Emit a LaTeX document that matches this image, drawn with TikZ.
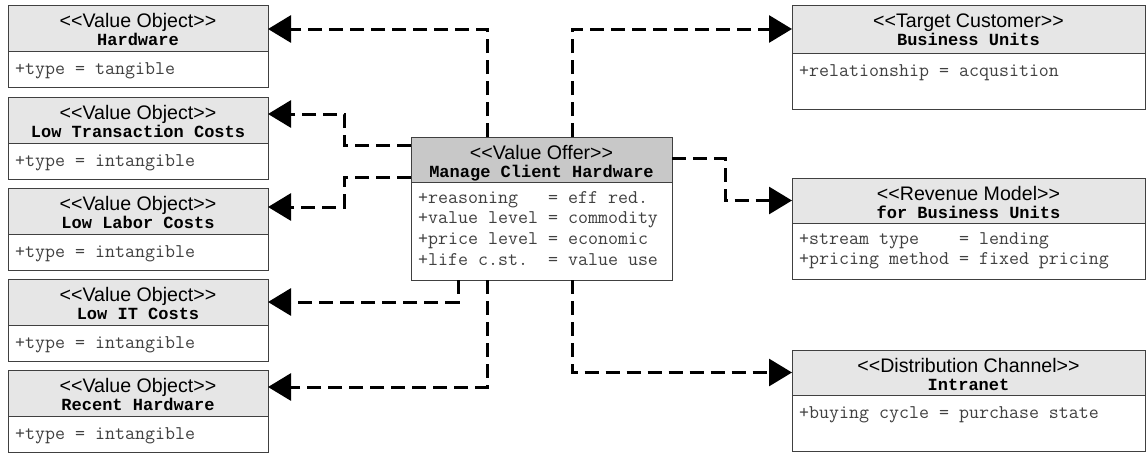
\documentclass[tikz,border=0pt]{standalone}
\usepackage{fontspec}
\newfontfamily\arialf{Liberation Sans}
\newfontfamily\courf{Liberation Mono}
\usetikzlibrary{arrows.meta,calc}

\definecolor{hdrgray}{HTML}{E6E6E6}
\definecolor{offergray}{HTML}{C8C8C8}
\definecolor{framegray}{HTML}{404040}
\definecolor{attrgray}{HTML}{404040}

\tikzset{
  umlhead/.style={draw=framegray, line width=1pt, inner sep=0pt, outer sep=0pt, anchor=north west},
  umlbody/.style={draw=framegray, line width=1pt, fill=white, inner sep=0pt, outer sep=0pt, anchor=north west},
  stereo/.style={anchor=base, inner sep=0pt, font=\arialf\fontsize{19.6}{23}\selectfont},
  clsname/.style={anchor=base, inner sep=0pt, font=\courf\bfseries\fontsize{17}{20}\selectfont},
  attrs/.style={anchor=north west, inner sep=0pt, align=left, text=attrgray,
    font=\ttfamily\fontsize{19.4}{20.7}\selectfont, execute at begin node=\strut},
  dep/.style={line width=3pt, dash pattern=on 14pt off 7pt,
    -{Triangle[length=23pt,width=27pt]}},
}

% angle-bracketed stereotype, kerns keep << and >> as plain brackets
\newcommand\stereotxt[1]{<\kern0pt<#1>\kern0pt>}

% #1 name, #2 top-left corner, #3 width, #4 header height, #5 body height,
% #6 header fill, #7 stereotype, #8 class name, #9 attribute lines
\newcommand\umlclass[9]{%
  \node[umlhead, fill=#6, minimum width=#3, minimum height=#4] (#1) at (#2) {};
  \node[umlbody, minimum width=#3, minimum height=#5] (#1-b) at (#1.south west) {};
  \node[stereo] (#1-s) at ($(#1.north)+(0,22)$) {\stereotxt{#7}};
  \node[clsname] (#1-n) at ($(#1.north)+(0,40.5)$) {#8};
  \node[attrs] (#1-a) at ($(#1-b.north west)+(7,9)$) {#9};
}

\begin{document}
\begin{tikzpicture}[x=1pt,y=-1pt]
\useasboundingbox[fill=white] (0,0) rectangle (1146,453);

% value objects on the left
\umlclass{hw}{8,5}{260}{46}{36}{hdrgray}{Value Object}{Hardware}{+type = tangible}
\umlclass{lt}{8,97}{260}{46}{36}{hdrgray}{Value Object}{Low Transaction Costs}{+type = intangible}
\umlclass{ll}{8,188}{260}{46}{36}{hdrgray}{Value Object}{Low Labor Costs}{+type = intangible}
\umlclass{it}{8,279}{260}{46}{36}{hdrgray}{Value Object}{Low IT Costs}{+type = intangible}
\umlclass{rh}{8,370}{260}{46}{36}{hdrgray}{Value Object}{Recent Hardware}{+type = intangible}

% the value offer in the middle
\umlclass{vo}{411,137}{261}{45}{98}{offergray}{Value Offer}{Manage Client Hardware}%
  {+reasoning~~~= eff red.\\+value level = commodity\\+price level = economic\\+life c.st.~~= value use}

% customer, revenue and channel on the right
\umlclass{tc}{792,5}{353}{48}{56}{hdrgray}{Target Customer}{Business Units}{+relationship = acqusition}
\umlclass{rm}{792,178}{353}{45}{56}{hdrgray}{Revenue Model}{for Business Units}%
  {+stream type~~~~= lending\\+pricing method = fixed pricing}
\umlclass{dc}{792,350}{353}{45}{56}{hdrgray}{Distribution Channel}{Intranet}{+buying cycle = purchase state}

% dependencies from the value offer
\draw[dep] ($(vo.north west)+(76,0)$) |- ($(hw.north east)+(0,24)$);
\draw[dep] ($(vo.north west)+(0,8)$) -- ++(-67,0) |- ($(lt.north east)+(0,17)$);
\draw[dep] ($(vo.north west)+(0,40)$) -- ++(-67,0) |- ($(ll.north east)+(0,19)$);
\draw[dep] ($(vo-b.south west)+(47,0)$) |- ($(it.north east)+(0,23)$);
\draw[dep] ($(vo-b.south west)+(76,0)$) |- ($(rh.north east)+(0,17)$);
\draw[dep] ($(vo.north west)+(161,0)$) |- (tc.west);
\draw[dep] ($(vo.north east)+(0,21)$) -- ++(53,0) |- (rm.west);
\draw[dep] ($(vo-b.south west)+(161,0)$) |- (dc.west);
\end{tikzpicture}
\end{document}
